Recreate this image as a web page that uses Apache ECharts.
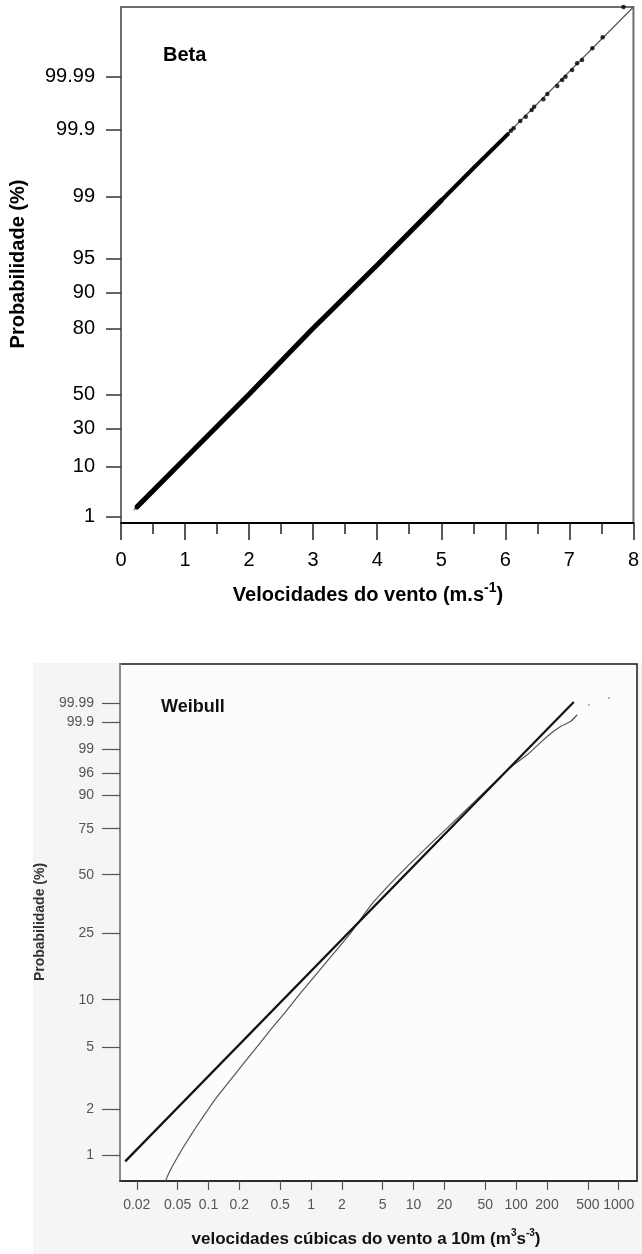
<!DOCTYPE html>
<html>
<head>
<meta charset="utf-8">
<script src="https://cdn.jsdelivr.net/npm/echarts@6/dist/echarts.min.js"></script>
<style>
  html, body { margin: 0; padding: 0; background: #ffffff; }
  #chart { width: 642px; height: 1254px; }
</style>
</head>
<body>
<div id="chart"></div>
<script>
// ---------- Beta probability plot (wind speed vs. Beta quantile scale) ----------
const speedTicks = [0, 1, 2, 3, 4, 5, 6, 7, 8];
const betaProbLabels = ['1', '10', '30', '50', '80', '90', '95', '99', '99.9', '99.99'];
// position of each probability label on the quantile scale
const betaProbQuantiles = [0.098, 0.873, 1.468, 1.995, 3.008, 3.577, 4.098, 5.059, 6.104, 6.919];

// densely overlapping observations (drawn as one heavy trace)
const betaBodySpeed    = [0.25, 1.0, 2.0, 2.98, 4.0, 5.0];
const betaBodyQuantile = [0.25, 1.0, 1.995, 3.0, 4.0, 5.0];
// thinner stretch where the observations start to separate
const betaUpperSpeed    = [5.0, 5.5, 6.04];
const betaUpperQuantile = [5.0, 5.5, 6.03];
// separated observations of the upper tail
const betaTailSpeed    = [6.087, 6.129, 6.233, 6.319, 6.412, 6.450, 6.594, 6.656, 6.811, 6.888, 6.940, 7.043, 7.121, 7.198, 7.358, 7.519, 7.845];
const betaTailQuantile = [6.082, 6.119, 6.233, 6.299, 6.403, 6.454, 6.569, 6.651, 6.775, 6.868, 6.919, 7.023, 7.127, 7.178, 7.360, 7.530, 8.000];
// reference line
const betaFitSpeed    = [0.2, 8.0];
const betaFitQuantile = [0.2, 8.0];

// ---------- Weibull probability plot (cubic wind speed at 10 m) ----------
const weibullProbLabels = ['1', '2', '5', '10', '25', '50', '75', '90', '96', '99', '99.9', '99.99'];
const weibullProbValues = [1, 2, 5, 10, 25, 50, 75, 90, 96, 99, 99.9, 99.99];
const cubicTicks = [0.02, 0.05, 0.1, 0.2, 0.5, 1, 2, 5, 10, 20, 50, 100, 200, 500, 1000];

// empirical distribution (m3 s-3, cumulative %)
const empiricalCubic = [0.0380, 0.0424, 0.0511, 0.0571, 0.0690, 0.0801, 0.0980, 0.1210, 0.1632, 0.2201,
                        0.2972, 0.4009, 0.5832, 0.7863, 1.144, 1.661, 2.417, 4.080, 8.643, 22.86,
                        65.27, 94.76, 128.1, 200.7, 270.5, 338.7, 393.7];
const empiricalProb  = [0.68, 0.802, 1.004, 1.137, 1.39, 1.616, 1.971, 2.404, 3.083, 3.948,
                        5.04, 6.44, 8.61, 10.93, 14.50, 19.08, 24.90, 36.82, 54.26, 76.95,
                        94.46, 97.34, 98.53, 99.616, 99.844, 99.906, 99.9554];
const empiricalTailCubic = [510.8, 800.8];
const empiricalTailProb  = [99.9873, 99.9951];
// fitted Weibull distribution
const fitCubic = [0.01543, 364.8];
const fitProb  = [0.917, 99.9913];

// Weibull scale: ln(-ln(1 - p))
const weibullScale = p => Math.log(-Math.log(1 - p / 100));
const zip = (xs, ys) => xs.map((x, i) => [x, ys[i]]);
const zipW = (xs, ps) => xs.map((x, i) => [x, weibullScale(ps[i])]);

const nearestLabel = (v, positions, labels) => {
  let best = 0;
  positions.forEach((p, i) => { if (Math.abs(p - v) < Math.abs(positions[best] - v)) best = i; });
  return labels[best];
};

const FONT = '"Liberation Sans", Arial, Helvetica, sans-serif';
const weibullTickPos = weibullProbValues.map(weibullScale);

const chart = echarts.init(document.getElementById('chart'), null, { renderer: 'canvas' });

const option = {
  animation: false,
  backgroundColor: '#ffffff',
  grid: [
    { left: 121, top: 7, width: 516, height: 516, show: true,
      borderColor: '#6e6e6e', borderWidth: 2, backgroundColor: '#ffffff' },
    { left: 120, top: 664, width: 517, height: 517, show: true,
      borderColor: '#1a1a1a', borderWidth: 1.5, backgroundColor: '#fcfcfc' }
  ],
  xAxis: [
    {
      gridIndex: 0, type: 'value', min: 0, max: 8, interval: 1,
      axisLine: { show: true, onZero: false, lineStyle: { color: '#000000', width: 2 } },
      axisTick: { show: true, length: 17, lineStyle: { color: '#222222', width: 1.5 } },
      minorTick: { show: true, splitNumber: 2, length: 11, lineStyle: { color: '#222222', width: 1.5 } },
      axisLabel: { margin: 27, fontSize: 20, color: '#000000', fontFamily: FONT },
      splitLine: { show: false }, minorSplitLine: { show: false }
    },
    {
      gridIndex: 1, type: 'log', logBase: 10, min: 0.013725, max: 1508,
      axisLine: { show: true, onZero: false, lineStyle: { color: '#222222', width: 1.5 } },
      axisTick: { show: true, length: 9, customValues: cubicTicks, lineStyle: { color: '#555555', width: 1.2 } },
      axisLabel: { margin: 17, fontSize: 14, color: '#555555', fontFamily: FONT,
        customValues: cubicTicks, formatter: v => String(Number(v.toPrecision(2))) },
      splitLine: { show: false }, minorTick: { show: false }
    }
  ],
  yAxis: [
    {
      gridIndex: 0, type: 'value', min: 0, max: 8,
      axisLine: { show: true, lineStyle: { color: '#6e6e6e', width: 2 } },
      axisTick: { show: true, length: 15, customValues: betaProbQuantiles, lineStyle: { color: '#333333', width: 1.5 } },
      axisLabel: { margin: 26, fontSize: 20, color: '#000000', fontFamily: FONT,
        customValues: betaProbQuantiles, formatter: v => nearestLabel(v, betaProbQuantiles, betaProbLabels) },
      splitLine: { show: false }
    },
    {
      gridIndex: 1, type: 'value', min: -4.983, max: 2.808,
      axisLine: { show: true, lineStyle: { color: '#8a8a8a', width: 2 } },
      axisTick: { show: true, length: 18, customValues: weibullTickPos, lineStyle: { color: '#555555', width: 1.2 } },
      axisLabel: { margin: 26, fontSize: 14, color: '#555555', fontFamily: FONT,
        customValues: weibullTickPos, formatter: v => nearestLabel(v, weibullTickPos, weibullProbLabels) },
      splitLine: { show: false }
    }
  ],
  series: [
    { type: 'line', xAxisIndex: 0, yAxisIndex: 0, data: zip(betaFitSpeed, betaFitQuantile),
      showSymbol: false, lineStyle: { color: '#555555', width: 1.2 }, z: 2 },
    { type: 'line', xAxisIndex: 0, yAxisIndex: 0, data: zip(betaBodySpeed, betaBodyQuantile),
      showSymbol: false, lineStyle: { color: '#000000', width: 5, cap: 'round' }, z: 3 },
    { type: 'line', xAxisIndex: 0, yAxisIndex: 0, data: zip(betaUpperSpeed, betaUpperQuantile),
      showSymbol: false, lineStyle: { color: '#000000', width: 4, cap: 'round' }, z: 3 },
    { type: 'scatter', xAxisIndex: 0, yAxisIndex: 0, data: zip(betaTailSpeed, betaTailQuantile),
      symbolSize: 4.5, itemStyle: { color: '#000000' }, clip: false, z: 4 },

    { type: 'line', xAxisIndex: 1, yAxisIndex: 1, data: zipW(fitCubic, fitProb),
      showSymbol: false, lineStyle: { color: '#111111', width: 2.2 }, z: 3 },
    { type: 'line', xAxisIndex: 1, yAxisIndex: 1, data: zipW(empiricalCubic, empiricalProb),
      showSymbol: false, smooth: 0.25, lineStyle: { color: '#555555', width: 1.2 }, z: 2 },
    { type: 'scatter', xAxisIndex: 1, yAxisIndex: 1, data: zipW(empiricalTailCubic, empiricalTailProb),
      symbolSize: 2, itemStyle: { color: '#888888' }, z: 2 }
  ],
  graphic: [
    { type: 'rect', z: -10, shape: { x: 33, y: 663, width: 609, height: 591 },
      style: { fill: '#f5f5f5' } },
    { type: 'text', x: 163, y: 55,
      style: { text: 'Beta', font: 'bold 20px ' + FONT, fill: '#000000', align: 'left', verticalAlign: 'middle' } },
    { type: 'text', x: 18, y: 264, rotation: Math.PI / 2,
      style: { text: 'Probabilidade (%)', font: 'bold 20px ' + FONT, fill: '#000000', align: 'center', verticalAlign: 'middle' } },
    { type: 'text', x: 368, y: 593,
      style: {
        text: '{a|Velocidades do vento (m.s}{s|-1}{a|)}', align: 'center', verticalAlign: 'middle',
        rich: {
          a: { font: 'bold 20px ' + FONT, fill: '#000000', lineHeight: 24, verticalAlign: 'bottom' },
          s: { font: 'bold 14px ' + FONT, fill: '#000000', lineHeight: 24, verticalAlign: 'top' }
        }
      } },
    { type: 'text', x: 161, y: 707,
      style: { text: 'Weibull', font: 'bold 18px ' + FONT, fill: '#111111', align: 'left', verticalAlign: 'middle' } },
    { type: 'text', x: 40, y: 922, rotation: Math.PI / 2,
      style: { text: 'Probabilidade (%)', font: 'bold 14px ' + FONT, fill: '#333333', align: 'center', verticalAlign: 'middle' } },
    { type: 'text', x: 366, y: 1238,
      style: {
        text: '{a|velocidades cúbicas do vento a 10m (m}{s|3}{a|s}{s|-3}{a|)}', align: 'center', verticalAlign: 'middle',
        rich: {
          a: { font: 'bold 17px ' + FONT, fill: '#111111', lineHeight: 20, verticalAlign: 'bottom' },
          s: { font: 'bold 10px ' + FONT, fill: '#111111', lineHeight: 20, verticalAlign: 'top' }
        }
      } }
  ]
};

chart.setOption(option);
</script>
</body>
</html>
